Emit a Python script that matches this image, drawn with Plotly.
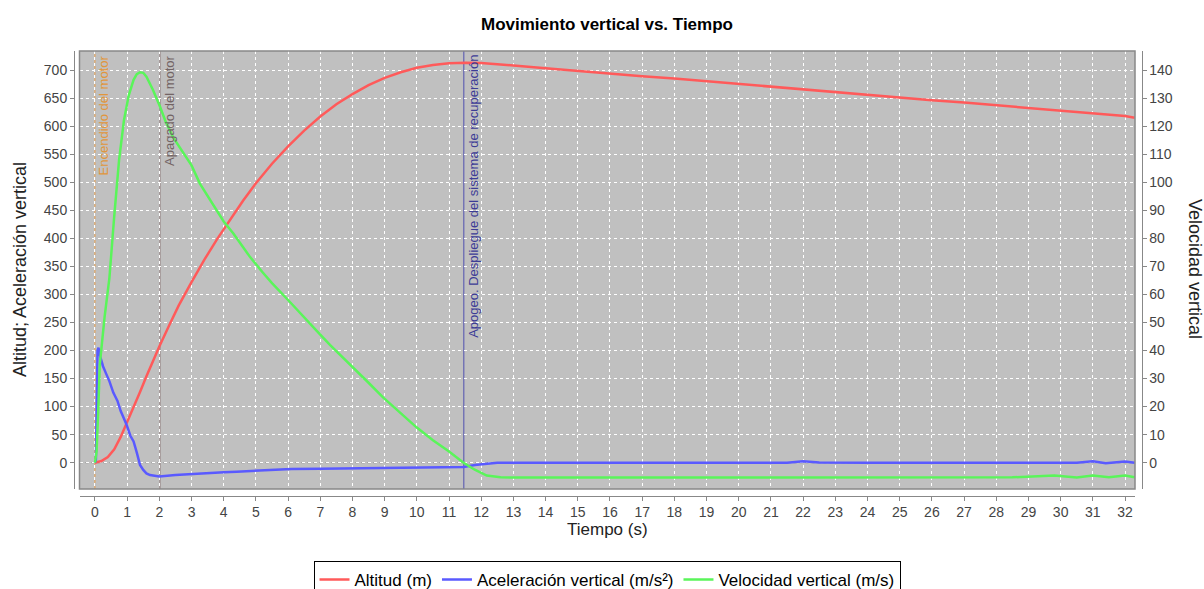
import plotly.graph_objects as go

# ---------------- data ----------------
t_alt = [0.0, 0.2, 0.4, 0.6, 0.8, 1.0, 1.2, 1.4, 1.6, 1.8, 2.0, 2.3, 2.6, 3.0, 3.4,
         3.8, 4.2, 4.6, 5.0, 5.5, 6.0, 6.5, 7.0, 7.5, 8.0, 8.5, 9.0, 9.5, 10.0, 10.5,
         11.0, 11.5, 12.0, 12.5, 13.0, 14.0, 15.0, 16.0, 17.0, 18.0, 19.0, 20.0, 21.0,
         22.0, 23.0, 24.0, 25.0, 26.0, 27.0, 28.0, 29.0, 30.0, 31.0, 32.0, 32.3]
altitud = [0, 3, 10, 24, 46, 72, 99, 126, 154, 181, 207, 244, 280, 322, 362,
           399, 434, 467, 498, 533, 564, 592, 617, 639, 657, 673, 686, 696, 704, 709,
           712, 713, 712.5, 710.5, 708, 703, 698, 694, 689, 685, 680, 675, 670,
           666, 661, 656, 651, 646, 642, 637, 632, 627, 622, 618, 615]

t_acc = [0.0, 0.03, 0.08, 0.11, 0.15, 0.25, 0.36, 0.45, 0.57, 0.7, 0.8, 0.98, 1.1,
         1.2, 1.3, 1.4, 1.5, 1.6, 1.71, 2.0, 2.5, 3.0, 3.5, 4.0, 4.4, 5.0, 6.0, 6.1,
         7.0, 8.0, 9.0, 9.6, 10.5, 11.45, 11.8, 12.2, 12.5, 14.0, 16.0, 18.0, 20.0,
         21.5, 22.0, 22.5, 24.0, 26.0, 28.0, 30.5, 31.0, 31.4, 32.0, 32.3]
aceleracion = [0, 5, 200, 205, 192, 172, 157, 145, 125, 110, 92, 68, 48,
               38, 18, -4, -13, -19, -22, -24.5, -22, -20, -18, -17, -16, -14.5, -12.5, -11.3,
               -10.8, -10, -9.5, -8.3, -8, -7.5, -4, -1, 0, 0, 0, 0, 0,
               0, 2.5, 0.5, 0, 0, 0, 0, 2.5, -1, 2, 0]

t_vel = [0.0, 0.05, 0.1, 0.15, 0.3, 0.45, 0.6, 0.75, 0.9, 1.05, 1.2, 1.3, 1.4, 1.5,
         1.6, 1.8, 2.02, 2.2, 2.43, 2.6, 2.85, 3.0, 3.26, 3.5, 3.78, 4.0, 4.3, 4.6,
         4.82, 5.2, 5.5, 6.0, 6.5, 6.89, 7.3, 7.7, 8.0, 8.5, 8.95, 9.5, 9.99, 10.5,
         11.0, 11.45, 11.8, 12.17, 12.6, 13.0, 15.0, 17.0, 19.0, 21.0, 23.0, 25.0,
         27.0, 28.5, 29.8, 30.5, 31.0, 31.5, 32.0, 32.3]
velocidad = [0, 4, 18, 35, 52, 66, 88, 108, 122, 131, 136.5, 138.5, 139.2, 139,
             137.6, 133, 127, 121.5, 116, 113, 109, 106, 99.5, 95, 90, 86, 81.7, 77,
             73.3, 68, 64, 58, 52, 47, 42, 37.6, 34, 28.5, 23.3, 17.5, 12.6, 8,
             4, 0, -2.5, -4.6, -5.2, -5.3, -5.3, -5.2, -5.3, -5.2, -5.3, -5.2,
             -5.3, -5.2, -4.6, -5.3, -4.6, -5.2, -4.6, -5.2]

event_times = [0.0, 2.02, 11.46]
event_labels = ["Encendido del motor", "Apagado del motor",
                "Apogeo. Despliegue del sistema de recuperación"]

# ---------------- styles / geometry ----------------
W, H = 1204, 589
ML, MR, MT, MB = 70, 59, 45, 91
PW, PH = W - ML - MR, H - MT - MB


def px_x(p):
    return (p - ML) / PW


def px_y(p):
    return (H - MB - p) / PH


xdom = [px_x(79.5), px_x(1135)]
ydom = [px_y(489), px_y(51)]

event_colors = ["rgb(232,160,80)", "rgb(140,120,120)", "rgb(80,80,175)"]
event_text_colors = ["rgb(225,150,60)", "rgb(115,100,100)", "rgb(60,60,150)"]
event_dash = ["dot", "solid", "solid"]

FONT = "Liberation Sans, Arial, sans-serif"
AXC = "#888888"

fig = go.Figure()
fig.add_trace(go.Scatter(x=t_alt, y=altitud, name="Altitud (m)", mode="lines",
                         line=dict(color="rgb(255,90,90)", width=2.5), yaxis="y"))
fig.add_trace(go.Scatter(x=t_acc, y=aceleracion, name="Aceleración vertical (m/s²)",
                         mode="lines", line=dict(color="rgb(90,90,255)", width=2.5),
                         yaxis="y"))
fig.add_trace(go.Scatter(x=t_vel, y=velocidad, name="Velocidad vertical (m/s)",
                         mode="lines", line=dict(color="rgb(90,245,90)", width=2.5),
                         yaxis="y2"))

shapes = []
shapes.append(dict(type="line", xref="paper", yref="y", x0=xdom[0], x1=xdom[1],
                   y0=0, y1=0, layer="below",
                   line=dict(color="rgb(130,130,130)", width=1, dash="3px,3px")))
for t, c, d in zip(event_times, event_colors, event_dash):
    shapes.append(dict(type="line", xref="x", yref="paper", x0=t, x1=t,
                       y0=ydom[0], y1=ydom[1], layer="below",
                       line=dict(color=c, width=1, dash=d)))
shapes.append(dict(type="rect", xref="paper", yref="paper", x0=xdom[0], x1=xdom[1],
                   y0=ydom[0], y1=ydom[1], line=dict(color=AXC, width=1.5)))

annotations = []
for t, lab, c in zip(event_times, event_labels, event_text_colors):
    annotations.append(dict(x=t, y=ydom[1], xref="x", yref="paper", text=lab,
                            textangle=-90, xanchor="left", yanchor="top",
                            xshift=0, yshift=-2, showarrow=False,
                            font=dict(family=FONT, size=13, color=c)))
annotations.append(dict(x=px_x(20), y=px_y(270), xref="paper", yref="paper",
                        text="Altitud; Aceleración vertical", textangle=-90,
                        showarrow=False, xanchor="center", yanchor="middle",
                        font=dict(family=FONT, size=18, color="#222")))
annotations.append(dict(x=px_x(1195), y=px_y(269), xref="paper", yref="paper",
                        text="Velocidad vertical", textangle=90,
                        showarrow=False, xanchor="center", yanchor="middle",
                        font=dict(family=FONT, size=18, color="#222")))
annotations.append(dict(x=px_x(607), y=px_y(529), xref="paper", yref="paper",
                        text="Tiempo (s)", showarrow=False,
                        xanchor="center", yanchor="middle",
                        font=dict(family=FONT, size=17, color="#222")))

tickfont = dict(family=FONT, size=14, color="#444")
common = dict(showline=True, linecolor=AXC, linewidth=1, ticks="outside",
              ticklen=4, tickcolor=AXC, tickfont=tickfont, zeroline=False)

fig.update_layout(
    width=W, height=H,
    margin=dict(l=ML, r=MR, t=MT, b=MB, autoexpand=False),
    paper_bgcolor="white", plot_bgcolor="#C0C0C0",
    font=dict(family=FONT),
    title=dict(text="<b>Movimiento vertical vs. Tiempo</b>", x=607 / W,
               xanchor="center", y=1 - 24 / H, yanchor="middle",
               font=dict(family=FONT, size=17, color="black")),
    xaxis=dict(domain=xdom, anchor="free", position=px_y(495.5),
               range=[-0.48, 32.31], tick0=0, dtick=1,
               showgrid=True, gridcolor="white", griddash="3px,3px", gridwidth=1,
               **common),
    yaxis=dict(domain=ydom, anchor="free", position=px_x(74),
               range=[-46.9, 733.9], tick0=0, dtick=50,
               showgrid=True, gridcolor="white", griddash="3px,3px", gridwidth=1,
               **common),
    yaxis2=dict(overlaying="y", side="right", anchor="free", position=px_x(1141.5),
                range=[-46.9 / 5, 733.9 / 5], tick0=0, dtick=10, showgrid=False,
                **common),
    legend=dict(orientation="h", x=px_x(607), xanchor="center", y=px_y(561),
                yanchor="top", bordercolor="black", borderwidth=1,
                bgcolor="white", font=dict(family=FONT, size=17, color="black"),
                itemwidth=30, tracegroupgap=0),
    shapes=shapes,
    annotations=annotations,
    showlegend=True,
)

fig.write_html("out.html")
